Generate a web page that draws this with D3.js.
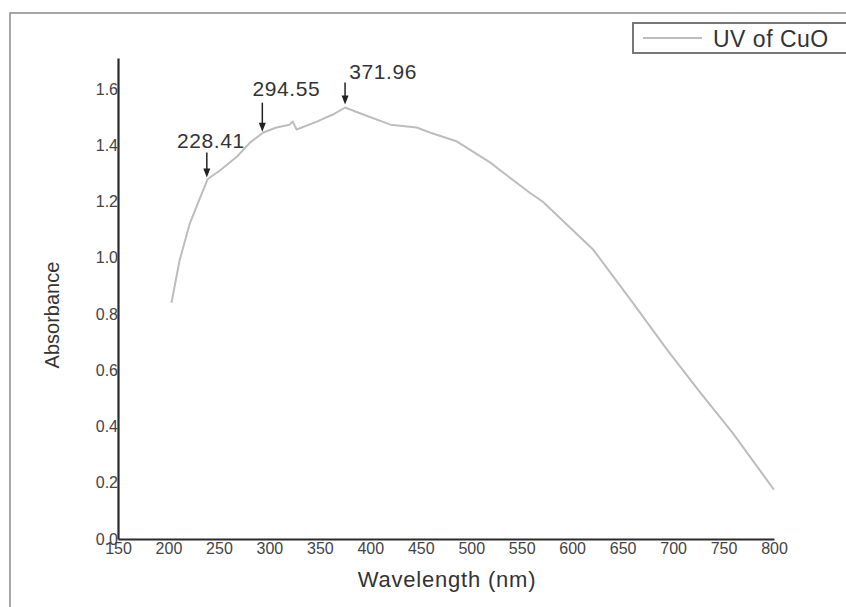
<!DOCTYPE html>
<html>
<head>
<meta charset="utf-8">
<script src="https://cdn.jsdelivr.net/npm/d3@7"></script>
<style>
  body { margin: 0; background: #fff; }
  svg { display: block; font-family: 'Liberation Sans', Arial, sans-serif; }
</style>
</head>
<body>
<div id="chart"></div>
<script>
// wavelength (nm) and absorbance
const wavelength = [203, 211, 221, 231, 239, 251, 268, 281, 294, 307, 320, 323, 327,
  347, 363, 375, 393, 420, 446, 459, 486, 519, 528, 558, 571, 621, 660, 694, 727, 759, 800];
const absorbance = [0.84, 0.99, 1.12, 1.21, 1.28, 1.31, 1.36, 1.41, 1.445, 1.463, 1.473, 1.484, 1.456,
  1.484, 1.509, 1.534, 1.509, 1.473, 1.463, 1.445, 1.413, 1.338, 1.313, 1.231, 1.199, 1.028, 0.84, 0.673, 0.52, 0.377, 0.175];

const xTicks = [150, 200, 250, 300, 350, 400, 450, 500, 550, 600, 650, 700, 750, 800];
const yTicks = [0, 0.2, 0.4, 0.6, 0.8, 1.0, 1.2, 1.4, 1.6];

const peakX = [238, 293, 375];
const peakY = [1.285, 1.448, 1.545];
const peakText = ['228.41', '294.55', '371.96'];

const seriesName = 'UV of CuO';

const w = 846;
const h = 607;
const data = wavelength.map((d, i) => [d, absorbance[i]]);

const xScale = d3.scaleLinear().domain([150, 800]).range([118, 774]);
const yScale = d3.scaleLinear().domain([0, 1.71]).range([539, 58]);

const svg = d3.select('#chart').append('svg')
  .attr('width', w)
  .attr('height', h);

// outer frame
svg.append('rect')
  .attr('x', 10).attr('y', 13)
  .attr('width', 900).attr('height', 700)
  .attr('fill', 'none')
  .attr('stroke', '#8a8a8a')
  .attr('stroke-width', 1.5);

// curve
svg.append('path')
  .datum(data)
  .attr('fill', 'none')
  .attr('stroke', '#bdbdbd')
  .attr('stroke-width', 2)
  .attr('stroke-linejoin', 'round')
  .attr('d', d3.line().x((d) => xScale(d[0])).y((d) => yScale(d[1])));

const xAxis = d3.axisBottom(xScale).tickValues(xTicks).tickSize(0).tickPadding(4)
  .tickFormat(d3.format('d'));
const yAxis = d3.axisLeft(yScale).tickValues(yTicks).tickSize(0).tickPadding(0)
  .tickFormat(d3.format('.1f'));

const gx = svg.append('g')
  .attr('transform', 'translate(0,' + yScale(0) + ')')
  .call(xAxis);
const gy = svg.append('g')
  .attr('transform', 'translate(' + xScale(150) + ',0)')
  .call(yAxis);

[gx, gy].forEach((g) => {
  g.select('.domain').attr('stroke', '#2a2a2a').attr('stroke-width', 2.2);
  g.selectAll('text')
    .attr('fill', '#444')
    .style('font-size', '16px')
    .style('font-family', "'Liberation Sans', Arial, sans-serif");
});

// axis titles
svg.append('text')
  .attr('x', 447).attr('y', 587)
  .attr('text-anchor', 'middle')
  .attr('fill', '#333')
  .style('font-size', '22px')
  .style('letter-spacing', '0.8px')
  .text('Wavelength (nm)');

svg.append('text')
  .attr('transform', 'translate(59,315) rotate(-90)')
  .attr('text-anchor', 'middle')
  .attr('fill', '#333')
  .style('font-size', '20px')
  .text('Absorbance');

// peak annotations: label offset and arrow length per label
const labelDx = [4, 24, 38];
const labelDy = [-30, -36, -25];
const arrowLen = [25, 29, 22];

peakX.forEach((v, i) => {
  const tx = xScale(v);
  const ty = yScale(peakY[i]);
  svg.append('line')
    .attr('x1', tx).attr('x2', tx)
    .attr('y1', ty - arrowLen[i]).attr('y2', ty - 6)
    .attr('stroke', '#222')
    .attr('stroke-width', 1.5);
  svg.append('path')
    .attr('d', 'M' + (tx - 3.5) + ',' + (ty - 9) + 'L' + (tx + 3.5) + ',' + (ty - 9) + 'L' + tx + ',' + ty + 'Z')
    .attr('fill', '#222');
  svg.append('text')
    .attr('x', tx + labelDx[i])
    .attr('y', ty + labelDy[i])
    .attr('text-anchor', 'middle')
    .attr('fill', '#333')
    .style('font-size', '21px')
    .style('letter-spacing', '0.6px')
    .text(peakText[i]);
});

// legend
const legend = svg.append('g');
legend.append('rect')
  .attr('x', 633).attr('y', 23)
  .attr('width', 230).attr('height', 30)
  .attr('fill', '#fff')
  .attr('stroke', '#777')
  .attr('stroke-width', 2);
legend.append('line')
  .attr('x1', 643).attr('x2', 702)
  .attr('y1', 38).attr('y2', 38)
  .attr('stroke', '#bdbdbd')
  .attr('stroke-width', 2);
legend.append('text')
  .attr('x', 713).attr('y', 47)
  .attr('fill', '#333')
  .style('font-size', '23px')
  .style('letter-spacing', '0.5px')
  .text(seriesName);
</script>
</body>
</html>
